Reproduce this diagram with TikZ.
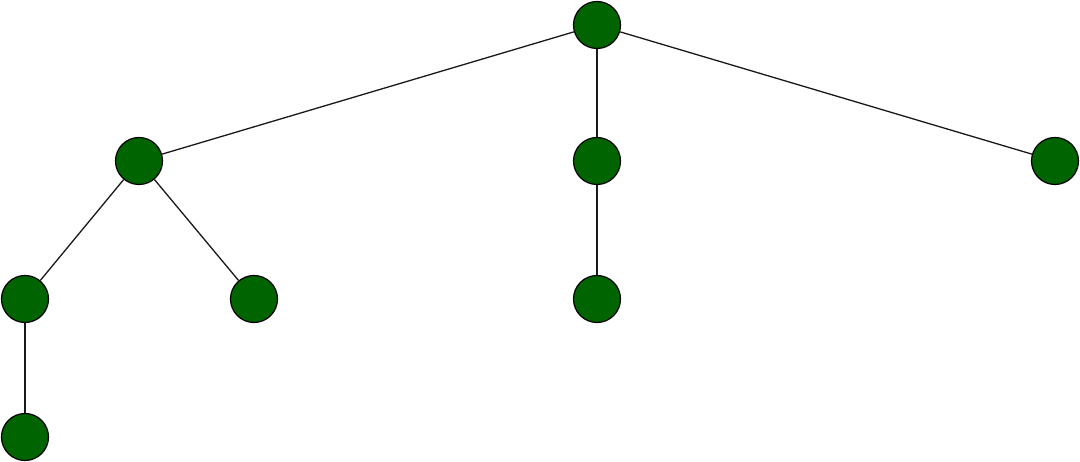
\documentclass[tikz,border=0pt]{standalone}
\begin{document}
\begin{tikzpicture}[x=1pt,y=-1pt,
  vtx/.style={circle,draw=black,fill={rgb,255:red,0;green,100;blue,0},line width=1.2pt,minimum size=47pt,inner sep=0pt},
  edge/.style={draw=black!90,line width=1.3pt}]
\useasboundingbox (0,0) rectangle (1080,462);
\node[vtx] (r) at (597,25) {};
\node[vtx] (a) at (139,161) {};
\node[vtx] (b) at (597,161) {};
\node[vtx] (c) at (1055,161) {};
\node[vtx] (a1) at (25,299) {};
\node[vtx] (a2) at (254,299) {};
\node[vtx] (b1) at (597,299) {};
\node[vtx] (a11) at (25,437) {};
\draw[edge] (r) -- (a);
\draw[edge] (r) -- (b);
\draw[edge] (r) -- (c);
\draw[edge] (a) -- (a1);
\draw[edge] (a) -- (a2);
\draw[edge] (b) -- (b1);
\draw[edge] (a1) -- (a11);
\end{tikzpicture}
\end{document}
